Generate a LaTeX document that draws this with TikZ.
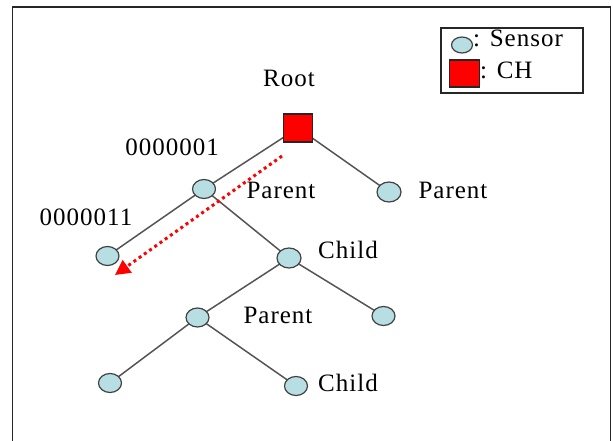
\documentclass[tikz,border=0pt]{standalone}
\usepackage{fontspec}
\setmainfont{Liberation Serif}[LetterSpace=4]
\usetikzlibrary{arrows.meta,shapes.geometric,backgrounds}
\definecolor{sensorfill}{HTML}{B7DEE2}
\definecolor{edgegray}{HTML}{555555}
\tikzset{
  sensor/.style={ellipse, draw=black!75, line width=1.2pt, fill=sensorfill, minimum width=23pt, minimum height=19pt, inner sep=0pt},
  chbox/.style={rectangle, draw=black!85, line width=1.4pt, fill=red, minimum width=29pt, minimum height=28pt, inner sep=0pt},
  edge/.style={draw=edgegray, line width=1.5pt},
  lbl/.style={anchor=base, inner sep=0pt, font=\fontsize{25}{29}\selectfont},
  frame/.style={draw=black!85, line width=1.6pt}
}
\begin{document}
\begin{tikzpicture}[x=1pt, y=-1pt]
\useasboundingbox (0,0) rectangle (613,441);
% outer frame
\draw[frame] (12.5,450) -- (12.5,7) -- (610.5,7) -- (610.5,450);
% legend
\draw[black!85, line width=1.4pt] (441,28) rectangle (583,93);
\node[sensor, minimum width=21pt, minimum height=16pt] (ls) at (462,45) {};
\node[chbox, minimum width=30pt, minimum height=27pt] (lc) at (464.5,73.5) {};
\node[lbl, anchor=base west] (lst) at (473,47) {: Sensor};
\node[lbl, anchor=base west] (lct) at (480,79) {: CH};
% tree nodes
\node[chbox] (root) at (298,128) {};
\node[sensor] (p1) at (204,189) {};
\node[sensor, minimum width=24pt, minimum height=20pt] (pr) at (389,192) {};
\node[sensor] (ll) at (107.5,256) {};
\node[sensor, minimum width=24pt, minimum height=20pt] (ch) at (289,258) {};
\node[sensor] (p2) at (197.5,317.5) {};
\node[sensor] (lr) at (383.5,316) {};
\node[sensor] (lb) at (110,383) {};
\node[sensor] (cb) at (296,386) {};
% edges
\begin{scope}[on background layer]
\path[edge] (root.center) -- (p1.center);
\path[edge] (root.center) -- (pr.center);
\path[edge] (p1.center) -- (ll.center);
\path[edge] (p1.center) -- (ch.center);
\path[edge] (ch.center) -- (p2.center);
\path[edge] (ch.center) -- (lr.center);
\path[edge] (p2.center) -- (lb.center);
\path[edge] (p2.center) -- (cb.center);
\end{scope}
% labels
\node[lbl] (tr) at (289,87) {Root};
\node[lbl] (t1) at (172,156) {0000001};
\node[lbl] (t2) at (281,198) {Parent};
\node[lbl] (t3) at (453,198) {Parent};
\node[lbl] (t4) at (86,225) {0000011};
\node[lbl] (t5) at (348,258) {Child};
\node[lbl] (t6) at (278,323) {Parent};
\node[lbl] (t7) at (348,391) {Child};
% red dotted arrow
\coordinate (as) at (282,156);
\coordinate (ae) at (115,275);
\draw[red, line width=3pt, dash pattern=on 3pt off 3.4pt, -{Triangle[length=15pt, width=15pt]}] (as) -- (ae);
\end{tikzpicture}
\end{document}
